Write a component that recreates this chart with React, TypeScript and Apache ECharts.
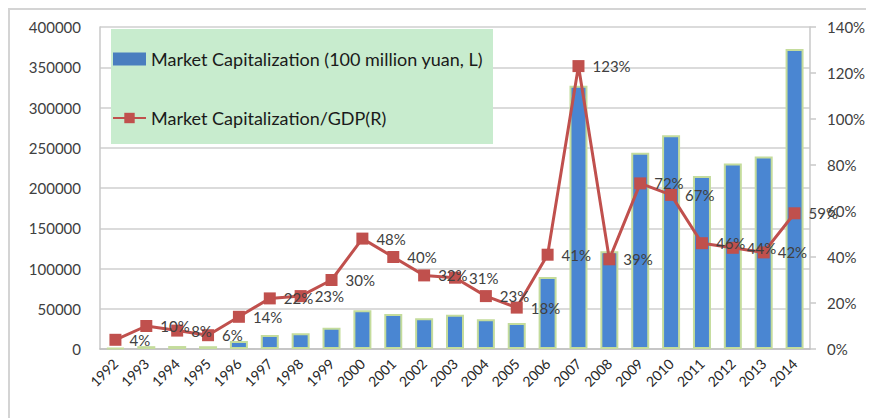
import React, { useEffect, useRef } from "react";
import * as echarts from "echarts";

const years = [
  "1992", "1993", "1994", "1995", "1996", "1997", "1998", "1999", "2000", "2001", "2002", "2003",
  "2004", "2005", "2006", "2007", "2008", "2009", "2010", "2011", "2012", "2013", "2014",
];
const marketCap = [
  1048, 3531, 3691, 3474, 9842, 17529, 19506, 26471, 48091, 43522, 38329, 42458,
  37056, 32430, 89404, 327141, 121366, 243939, 265423, 214758, 230358, 239077, 372547,
];
const capToGdp = [
  4, 10, 8, 6, 14, 22, 23, 30, 48, 40, 32, 31, 23, 18, 41, 123, 39, 72, 67, 46, 44, 42, 59,
];
const barName = "Market Capitalization (100 million yuan, L)";
const lineName = "Market Capitalization/GDP(R)";

const FONT = "Lato, 'Open Sans', sans-serif";
const TXT = "#404040";

export default function App() {
  const ref = useRef<HTMLDivElement>(null);
  useEffect(() => {
    if (!ref.current) return;
    const chart = echarts.init(ref.current, undefined, { renderer: "svg" });
    chart.setOption({
      animation: false,
      textStyle: { fontFamily: FONT },
      graphic: [
        {
          type: "rect",
          z: 0,
          shape: { x: 1, y: 1, width: 900, height: 500 },
          style: { fill: "none", stroke: "#d4d4d4", lineWidth: 2 },
        },
        {
          type: "rect",
          z: 1,
          shape: { x: 103, y: 21, width: 382, height: 115 },
          style: { fill: "#c8ecce" },
        },
      ],
      legend: {
        left: 104,
        top: 42,
        orient: "vertical",
        itemWidth: 33,
        itemHeight: 13,
        itemGap: 41,
        padding: 0,
        z: 5,
        textStyle: { fontFamily: FONT, fontSize: 18, color: "#1a1a1a", lineHeight: 18, padding: [0, 0, 0, 0] },
        data: [
          { name: barName, icon: "rect", itemStyle: { borderWidth: 0, color: "#4a7ebf" } },
          { name: lineName },
        ],
      },
      grid: { left: 92, right: 64, top: 19, bottom: 69 },
      xAxis: {
        type: "category",
        data: years,
        axisLine: { lineStyle: { color: "#bfbfbf", width: 1.5 } },
        axisTick: { show: false },
        axisLabel: {
          rotate: 45,
          interval: 0,
          margin: 12,
          fontSize: 14,
          color: "#262626",
          fontFamily: FONT,
        },
      },
      yAxis: [
        {
          type: "value",
          min: 0,
          max: 400000,
          interval: 50000,
          axisLine: { show: true, lineStyle: { color: "#c8c8c8", width: 1.5 } },
          axisTick: { show: false },
          splitLine: { lineStyle: { color: "#cfcfcf", width: 1.5 } },
          axisLabel: {
            fontSize: 15,
            color: TXT,
            margin: 19,
            fontFamily: FONT,
            formatter: (v: number) => String(v),
          },
        },
        {
          type: "value",
          min: 0,
          max: 140,
          interval: 20,
          position: "right",
          axisLine: { show: true, lineStyle: { color: "#c8c8c8", width: 1.5 } },
          axisTick: { show: true, length: 6, lineStyle: { color: "#c8c8c8", width: 1.5 } },
          splitLine: { show: false },
          axisLabel: { fontSize: 15, color: TXT, margin: 17, formatter: "{value}%", fontFamily: FONT },
        },
      ],
      series: [
        {
          name: barName,
          type: "bar",
          data: marketCap,
          yAxisIndex: 0,
          barWidth: 18,
          itemStyle: { color: "#4a86d2", borderColor: "#c4dc9c", borderWidth: 2 },
        },
        {
          name: lineName,
          type: "line",
          data: capToGdp,
          yAxisIndex: 1,
          symbol: "rect",
          symbolSize: 12,
          lineStyle: { color: "#c0504d", width: 3 },
          itemStyle: { color: "#c0504d" },
          label: {
            show: true,
            position: "right",
            distance: 8,
            formatter: "{c}%",
            fontSize: 15,
            color: TXT,
            fontFamily: FONT,
          },
          z: 3,
        },
      ],
    });
    return () => chart.dispose();
  }, []);
  return <div ref={ref} style={{ width: 866, height: 410 }} />;
}
